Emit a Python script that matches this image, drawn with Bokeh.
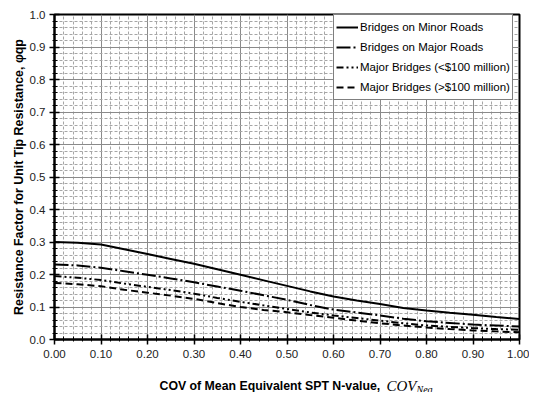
from bokeh.plotting import figure
from bokeh.layouts import column
from bokeh.models import Range1d, FixedTicker, PrintfTickFormatter, Label, Legend, LegendItem
from bokeh.embed import file_html
from bokeh.resources import INLINE

# ---- data ----
cov = [0.00, 0.05, 0.10, 0.15, 0.20, 0.25, 0.30, 0.35, 0.40, 0.45, 0.50,
       0.55, 0.60, 0.65, 0.70, 0.75, 0.80, 0.85, 0.90, 0.95, 1.00]
minor_roads = [0.300, 0.298, 0.292, 0.278, 0.263, 0.248, 0.233, 0.216, 0.199, 0.182, 0.165,
               0.148, 0.132, 0.120, 0.109, 0.097, 0.089, 0.082, 0.076, 0.069, 0.063]
major_roads = [0.231, 0.228, 0.221, 0.210, 0.199, 0.188, 0.176, 0.163, 0.150, 0.136, 0.122,
               0.106, 0.092, 0.083, 0.074, 0.064, 0.056, 0.051, 0.046, 0.043, 0.040]
major_lt100 = [0.195, 0.190, 0.183, 0.172, 0.162, 0.152, 0.141, 0.128, 0.116, 0.105, 0.094,
               0.083, 0.074, 0.066, 0.058, 0.050, 0.043, 0.039, 0.035, 0.032, 0.030]
major_gt100 = [0.174, 0.170, 0.164, 0.153, 0.144, 0.135, 0.125, 0.112, 0.100, 0.091, 0.084,
               0.075, 0.067, 0.058, 0.050, 0.043, 0.037, 0.032, 0.028, 0.025, 0.022]
series_names = ["Bridges on Minor Roads", "Bridges on Major Roads",
                "Major Bridges (<$100 million)", "Major Bridges (>$100 million)"]
x_ticks = [0.0, 0.1, 0.2, 0.3, 0.4, 0.5, 0.6, 0.7, 0.8, 0.9, 1.0]
y_ticks = [0.0, 0.1, 0.2, 0.3, 0.4, 0.5, 0.6, 0.7, 0.8, 0.9, 1.0]
minor_ticks = [round(i * 0.02, 2) for i in range(51) if i % 5 != 0]
x_title = "COV of Mean Equivalent SPT N-value, "
y_title = "Resistance Factor for Unit Tip Resistance, φqp"

# layout (pixels)
BL, BR, BT = 54, 10, 14
FW, FH = 465, 325
PW = BL + FW + BR  # 529
PH = 366
XH = 26

# ---- main chart ----
p = figure(width=PW, height=PH, x_range=Range1d(0, 1), y_range=Range1d(0, 1),
           output_backend="svg", toolbar_location=None,
           min_border_left=BL, min_border_right=BR, min_border_top=BT,
           min_border_bottom=PH - BT - FH,
           background_fill_color="white", border_fill_color="white")

p.outline_line_color = "black"
p.outline_line_width = 2

xt = FixedTicker(ticks=x_ticks, minor_ticks=minor_ticks)
yt = FixedTicker(ticks=y_ticks, minor_ticks=minor_ticks)
p.xaxis.ticker = xt
p.yaxis.ticker = yt
p.xgrid.ticker = xt
p.ygrid.ticker = yt
p.xaxis.formatter = PrintfTickFormatter(format="%.2f")
p.yaxis.formatter = PrintfTickFormatter(format="%.1f")

for ax in (p.xaxis, p.yaxis):
    ax.axis_line_color = "black"
    ax.axis_line_width = 2
    ax.major_tick_line_color = "black"
    ax.major_tick_line_width = 1.5
    ax.major_tick_in = 5
    ax.major_tick_out = 5
    ax.minor_tick_line_color = "black"
    ax.minor_tick_line_width = 1
    ax.minor_tick_in = 3
    ax.minor_tick_out = 2
    ax.major_label_text_font = "Liberation Sans"
    ax.major_label_text_font_size = "11.5px"
    ax.major_label_text_color = "#222222"
p.xaxis.major_label_standoff = 5
p.yaxis.major_label_standoff = 4

p.yaxis.axis_label = y_title
p.yaxis.axis_label_text_font = "Liberation Sans"
p.yaxis.axis_label_text_font_style = "bold"
p.yaxis.axis_label_text_font_size = "12.4px"
p.yaxis.axis_label_text_color = "black"
p.yaxis.axis_label_standoff = 1

for g in (p.xgrid, p.ygrid):
    g.grid_line_color = "#8a8a8a"
    g.grid_line_width = 1
    g.minor_grid_line_color = "#a6a6a6"
    g.minor_grid_line_width = 1
    g.minor_grid_line_dash = "3 2"

r1 = p.line(cov, minor_roads, line_color="black", line_width=2)
r2 = p.line(cov, major_roads, line_color="black", line_width=2, line_dash="14 3 2 3")
r3 = p.line(cov, major_lt100, line_color="black", line_width=2, line_dash="7 3 2 3 2 3")
r4 = p.line(cov, major_gt100, line_color="black", line_width=2, line_dash="7 4")

legend = Legend(items=[LegendItem(label=series_names[0], renderers=[r1]),
                       LegendItem(label=series_names[1], renderers=[r2]),
                       LegendItem(label=series_names[2], renderers=[r3]),
                       LegendItem(label=series_names[3], renderers=[r4])],
                location=(279, 239))
legend.border_line_color = "black"
legend.border_line_width = 1
legend.background_fill_color = "white"
legend.background_fill_alpha = 1.0
legend.label_text_font = "Liberation Sans"
legend.label_text_font_size = "11.5px"
legend.label_text_color = "black"
legend.glyph_width = 22
legend.glyph_height = 20
legend.label_height = 20
legend.label_standoff = 2
legend.spacing = 0
legend.padding = 2
legend.margin = 0
p.add_layout(legend)

# ---- x-axis title strip: frame aligned with the chart frame; data units = page px ----
fx = figure(width=PW, height=XH, x_range=Range1d(BL, BL + FW), y_range=Range1d(0, XH),
            output_backend="svg", toolbar_location=None,
            x_axis_location=None, y_axis_location=None,
            min_border_left=BL, min_border_right=BR, min_border_top=0, min_border_bottom=0,
            background_fill_color="white", border_fill_color="white")
fx.grid.visible = False
fx.outline_line_color = None
fx.add_layout(Label(x=159, y=7, text=x_title,
                    text_font="Liberation Sans", text_font_style="bold", text_font_size="12.3px",
                    text_align="left", text_baseline="alphabetic", text_color="black"))
fx.add_layout(Label(x=386, y=7, text="COV",
                    text_font="Liberation Serif", text_font_style="italic", text_font_size="15px",
                    text_align="left", text_baseline="alphabetic", text_color="black"))
fx.add_layout(Label(x=416, y=3, text="Neq",
                    text_font="Liberation Serif", text_font_style="italic", text_font_size="10px",
                    text_align="left", text_baseline="alphabetic", text_color="black"))

layout = column(p, fx, spacing=0)
open("out.html", "w").write(file_html(layout, INLINE))
